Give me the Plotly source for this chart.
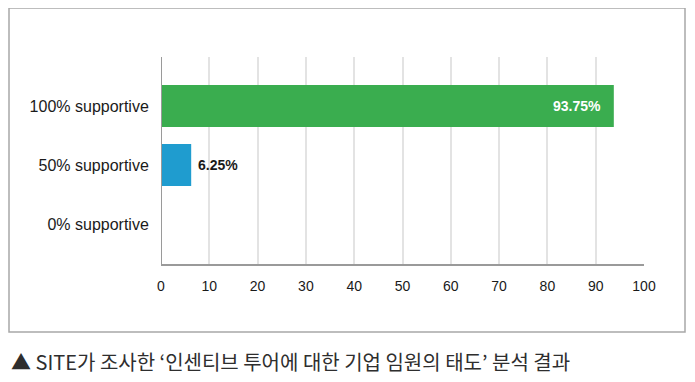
import plotly.graph_objects as go

categories = ["0% supportive", "50% supportive", "100% supportive"]
values = [0, 6.25, 93.75]
bar_colors = ["#1f9ccf", "#1f9ccf", "#3aad4f"]
value_labels = ["", "6.25%", "93.75%"]
label_inside = [False, False, True]
x_ticks = [0, 10, 20, 30, 40, 50, 60, 70, 80, 90, 100]
caption = "▲ SITE가 조사한 ‘인센티브 투어에 대한 기업 임원의 태도’ 분석 결과"

OFF = 8  # page body margin
W, H = 695 - OFF, 382 - OFF
L, R, T, B = 161 - OFF, 644 - OFF, 57 - OFF, 265 - OFF

def px(x):
    return (x - OFF - L) / (R - L)

def py(y):
    return (B - (y - OFF)) / (B - T)

fig = go.Figure()
fig.add_trace(go.Bar(
    x=values, y=categories, orientation="h",
    marker=dict(color=bar_colors, line=dict(width=0)),
    width=0.71,
    hoverinfo="skip",
))

annotations = []
for cat, val, lab, inside in zip(categories, values, value_labels, label_inside):
    if not lab:
        continue
    annotations.append(dict(
        x=val, y=cat, xref="x", yref="y", text="<b>%s</b>" % lab,
        showarrow=False,
        xanchor="right" if inside else "left",
        xshift=-11 if inside else 5,
        font=dict(family="Liberation Sans, Arial", size=14,
                  color="#ffffff" if inside else "#1a1a1a"),
    ))

annotations.append(dict(
    text=caption, xref="paper", yref="paper",
    x=px(9), y=py(361), xanchor="left", yanchor="middle",
    showarrow=False,
    font=dict(family="Noto Sans CJK KR", size=20, color="#2e2e2e"),
))

fig.update_layout(
    width=W, height=H,
    margin=dict(l=L, r=W - R, t=T, b=H - B),
    paper_bgcolor="white", plot_bgcolor="white",
    showlegend=False,
    font=dict(family="Liberation Sans, Arial", size=14, color="#1a1a1a"),
    xaxis=dict(
        range=[0, 100], tickvals=x_ticks, ticktext=[str(v) for v in x_ticks],
        showgrid=True, gridcolor="#e3e3e3", gridwidth=2,
        zeroline=False, showline=False,
        ticks="outside", ticklen=8, tickcolor="rgba(0,0,0,0)",
        tickfont=dict(size=14, color="#1a1a1a"),
        fixedrange=True,
    ),
    yaxis=dict(
        categoryorder="array", categoryarray=categories,
        range=[-0.695, 2.83],
        showgrid=False, zeroline=False, showline=False,
        ticks="outside", ticklen=8, tickcolor="rgba(0,0,0,0)",
        tickfont=dict(size=16, color="#1a1a1a"),
        fixedrange=True,
    ),
    shapes=[
        dict(type="line", xref="x", yref="paper", x0=0, x1=0, y0=0, y1=1,
             line=dict(color="#9a9a9a", width=2), layer="above"),
        dict(type="line", xref="paper", yref="paper", x0=0, x1=1, y0=0, y1=0,
             line=dict(color="#9a9a9a", width=2), layer="above"),
        dict(type="rect", xref="paper", yref="paper",
             x0=px(9), x1=px(685), y0=py(8), y1=py(332),
             line=dict(color="#a8a8a8", width=1.5), fillcolor="rgba(0,0,0,0)"),
    ],
    annotations=annotations,
)

fig.write_html("out.html")
